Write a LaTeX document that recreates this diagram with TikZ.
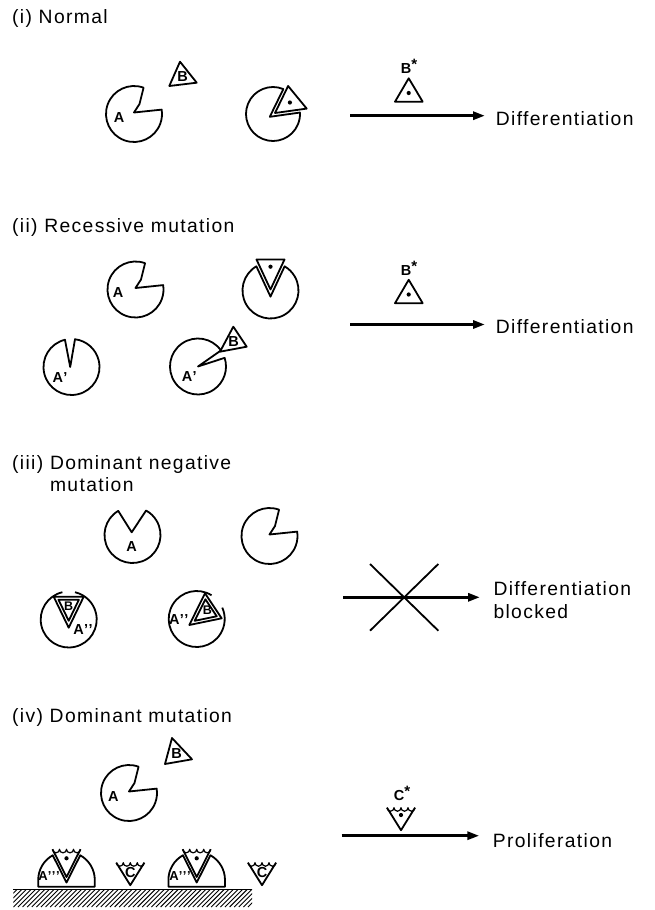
\documentclass[tikz,border=0pt]{standalone}
\usepackage{fontspec}
\setmainfont{Liberation Sans}[LetterSpace=7]
\usetikzlibrary{arrows.meta}
\newcommand{\starmark}{\raisebox{0.55ex}{\fontsize{15}{15}\selectfont *}}
\begin{document}
\begin{tikzpicture}[x=1pt,y=1pt,
  outline/.style={line width=1.8pt,line join=round},
  thin outline/.style={line width=1.2pt,line join=round},
  flow/.style={line width=2.9pt,-{Triangle[length=12pt,width=8pt]}},
  heading/.style={anchor=base west,inner sep=0pt,font=\fontsize{19.3}{22}\selectfont},
  tag/.style={inner sep=0pt,font=\bfseries\fontsize{14.5}{14.5}\selectfont},
  pacman/.pic={\draw[outline] (70:28) arc[start angle=70,end angle=369,radius=28] -- (0,1.5) -- (5.5,10) -- cycle;},
  cups/.pic={\draw[thin outline] (-14,0) arc[start angle=180,end angle=360,radius=3.5]
        arc[start angle=180,end angle=360,radius=3.5]
        arc[start angle=180,end angle=360,radius=3.5]
        arc[start angle=180,end angle=360,radius=3.5];},
  ctri/.pic={\draw[outline] (-14,0) -- (0,-22.5) -- (14,0); \pic at (0,0) {cups};},
  dome/.pic={
    \draw[outline] (13.76,31.42) arc[start angle=60.9,end angle=0,radius=28.3]
      -- (28.3,0) -- (-28.3,0) -- (-28.3,6.7) arc[start angle=180,end angle=119.1,radius=28.3]
      -- (0,4.2) -- cycle;
    \draw[outline] (-14,37.4) -- (0,9.7) -- (14,37.4);
    \pic at (0,37.4) {cups};
    \fill (0,28.4) circle (2.1);}
]
\useasboundingbox (0,0) rectangle (654,-910);

% ---------------- (i) Normal ----------------
\node[heading] (h1) at (12,-23.5) {(i) Normal};
\pic at (134,-114) {pacman};
\node[tag] (a1) at (119,-118) {A};
\draw[outline] (180,-61.7) -- (196.7,-82.7) -- (169.3,-86) -- cycle;
\node[tag] (b1) at (182.5,-77) {B};
\begin{scope}[shift={(273,-114)}]
  \draw[outline] (67.5:27) arc[start angle=67.5,end angle=363.1,radius=27] -- (-3.2,-2.8) -- cycle;
  \draw[outline] (2,1) -- (15.1,28) -- (33.7,5.4) -- cycle;
  \fill (16.9,11.5) circle (2.1);
\end{scope}
\node[tag] (bs1) at (409,-66.5) {B\starmark};
\draw[outline] (408.7,-78.3) -- (422.7,-101.7) -- (395,-101.7) -- cycle;
\fill (408.7,-93) circle (2.1);
\coordinate (f1s) at (350,-115.7);
\coordinate (f1e) at (485,-115.7);
\draw[flow] (f1s) -- (f1e);
\node[heading] (t1) at (495.7,-125.5) {Differentiation};

% ---------------- (ii) Recessive mutation ----------------
\node[heading] (h2) at (12,-232) {(ii) Recessive mutation};
\pic at (135.5,-289.5) {pacman};
\node[tag] (a2) at (118,-292.7) {A};
\begin{scope}[shift={(270.5,-290.5)}]
  \draw[outline] (120.3:28) arc[start angle=120.3,end angle=419.7,radius=28] -- (0,-6.1) -- cycle;
  \draw[outline] (-14,31) -- (0,1) -- (14,31) -- cycle;
  \fill (0,23.8) circle (2.1);
\end{scope}
\begin{scope}[shift={(71.5,-367)}]
  \draw[outline] (103.5:28) arc[start angle=103.5,end angle=442.8,radius=28] -- (-1.3,0) -- cycle;
\end{scope}
\node[tag] (a3) at (60,-377.7) {A’};
\begin{scope}[shift={(198,-366.5)}]
  \draw[outline] (35:28) arc[start angle=35,end angle=378,radius=28] -- (0,0) -- cycle;
\end{scope}
\node[tag] (a4) at (189.3,-376.7) {A’};
\draw[outline] (233.3,-326.7) -- (246.7,-346.7) -- (220,-351.7) -- cycle;
\node[tag] (b2) at (233.5,-342) {B};
\node[tag] (bs2) at (409,-268) {B\starmark};
\draw[outline] (408.7,-279.8) -- (422.7,-303.2) -- (395,-303.2) -- cycle;
\fill (408.7,-294.5) circle (2.1);
\coordinate (f2s) at (350,-324.5);
\coordinate (f2e) at (485,-324.5);
\draw[flow] (f2s) -- (f2e);
\node[heading] (t2) at (495.7,-333.5) {Differentiation};

% ---------------- (iii) Dominant negative mutation ----------------
\node[heading] (h3) at (12,-469) {(iii) Dominant negative};
\node[heading] (h3b) at (12,-491) {\phantom{(iii) }mutation};
\begin{scope}[shift={(132.5,-535)}]
  \draw[outline] (120.6:28) arc[start angle=120.6,end angle=421,radius=28] -- (-0.8,2.7) -- cycle;
\end{scope}
\node[tag] (a5) at (131.7,-547) {A};
\pic at (269.5,-536) {pacman};
\begin{scope}[shift={(68.7,-619.5)}]
  \draw[outline] (103:28) arc[start angle=103,end angle=437,radius=28];
  \draw[outline] (-15,22.8) -- (15,22.8) -- (0,-8.2) -- cycle;
  \begin{scope}[shift={(0,13.39)},scale=0.68]
    \draw[outline] (-15,9.41) -- (15,9.41) -- (0,-21.59) -- cycle;
  \end{scope}
\end{scope}
\node[tag,font=\bfseries\fontsize{12.5}{12.5}\selectfont] (b3) at (68.7,-606.5) {B};
\node[tag] (a6) at (83,-630) {A’’};
\begin{scope}[shift={(196.7,-619)}]
  \draw[outline] (58:28) arc[start angle=58,end angle=384,radius=28];
  \draw[outline] (8.3,25.7) -- (25,0.7) -- (-7.4,-6) -- cycle;
  \begin{scope}[shift={(9.51,7.05)},scale=0.68]
    \draw[outline] (-1.21,18.65) -- (15.49,-6.35) -- (-16.91,-13.05) -- cycle;
  \end{scope}
\end{scope}
\node[tag,font=\bfseries\fontsize{12.5}{12.5}\selectfont] (b4) at (207.3,-610) {B};
\node[tag] (a7) at (178.8,-619.3) {A’’};
\coordinate (f3s) at (343.3,-597.3);
\coordinate (f3e) at (480,-597.3);
\draw[flow] (f3s) -- (f3e);
\coordinate (x1) at (370,-564);
\coordinate (x2) at (438.3,-630.7);
\coordinate (x3) at (438.3,-564);
\coordinate (x4) at (370,-630.7);
\draw[line width=1.8pt] (x1) -- (x2);
\draw[line width=1.8pt] (x3) -- (x4);
\node[heading] (t3) at (493.3,-595) {Differentiation};
\node[heading] (t3b) at (493.3,-618) {blocked};

% ---------------- (iv) Dominant mutation ----------------
\node[heading] (h4) at (12,-722) {(iv) Dominant mutation};
\draw[outline] (172,-738) -- (192,-759.3) -- (165,-764) -- cycle;
\node[tag] (b5) at (176.5,-754) {B};
\pic at (129,-793) {pacman};
\node[tag] (a8) at (113.3,-796.7) {A};
\pic at (66.5,-886.7) {dome};
\node[tag,font=\bfseries\fontsize{13}{13}\selectfont] (a9) at (49,-876) {A’’’};
\pic at (130.3,-862.7) {ctri};
\node[tag] (c1) at (130.3,-872) {C};
\pic at (196.7,-886.7) {dome};
\node[tag,font=\bfseries\fontsize{13}{13}\selectfont] (a10) at (180,-876) {A’’’};
\pic at (262,-862.7) {ctri};
\node[tag] (c2) at (262,-872) {C};
% substrate
\draw[line width=1.6pt] (13.3,-889.3) -- (252,-889.3);
\begin{scope}
  \clip (13.3,-889.3) rectangle (252,-907);
  \foreach \k in {0,...,57} \draw[line width=0.9pt] ({\k*4.6-5},-907) -- ++(18,18);
\end{scope}
\node[tag] (cs) at (402,-793.3) {C\starmark};
\pic at (401,-807.7) {ctri};
\fill (401,-815) circle (2.1);
\coordinate (f4s) at (341.7,-835.7);
\coordinate (f4e) at (479.3,-835.7);
\draw[flow] (f4s) -- (f4e);
\node[heading] (t4) at (492.7,-847.5) {Proliferation};
\end{tikzpicture}
\end{document}
